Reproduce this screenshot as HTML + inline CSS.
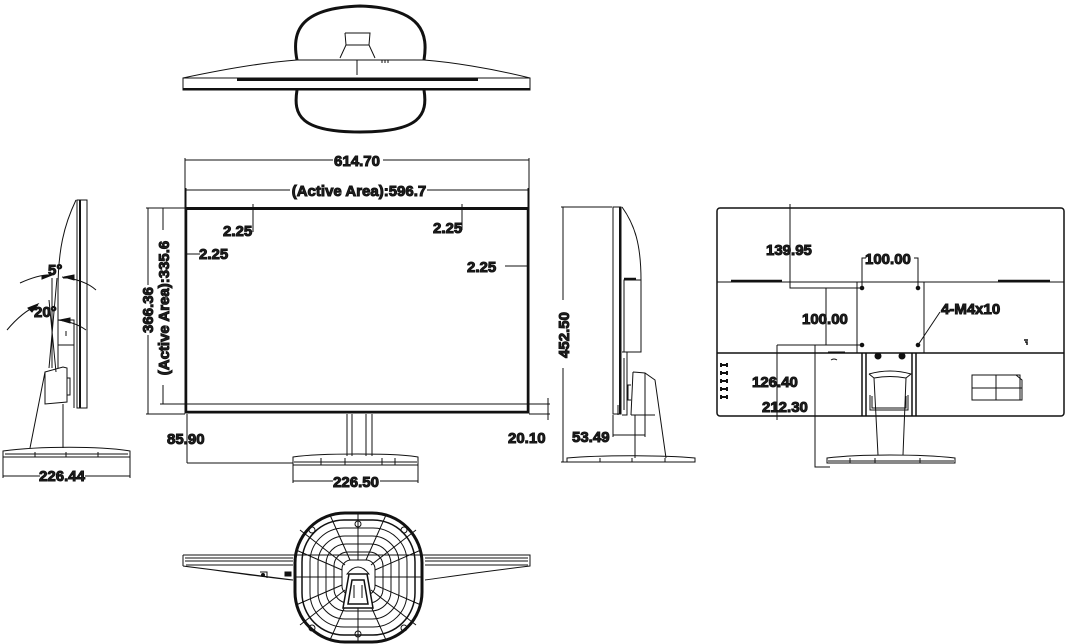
<!DOCTYPE html>
<html><head><meta charset="utf-8"><style>
html,body{margin:0;padding:0;background:#fff;}
svg{display:block;}
text{font-family:"Liberation Sans",sans-serif;font-weight:bold;font-size:15px;fill:#222;}
</style></head><body>
<svg width="1070" height="644" viewBox="0 0 1070 644" xmlns="http://www.w3.org/2000/svg" fill="none" stroke="#111" stroke-width="1">

<!-- ===== TOP VIEW ===== -->
<path d="M297,60 C292,35 296,8 360,6 C424,8 428,35 424,60" stroke-width="3"/>
<path d="M297,90 C293,115 300,132 360,132 C420,132 428,115 424,90" stroke-width="3"/>
<path d="M183,78 C230,68 270,62 297,60 L424,60 C450,62 490,68 530,78"/>
<rect x="183" y="78" width="347" height="12"/>
<line x1="237" y1="79.5" x2="478" y2="79.5" stroke-width="3"/>
<line x1="183" y1="89" x2="530" y2="89" stroke-width="2"/>
<path d="M345,33 L370,33 L369,45 L375,58 M345,33 L346,45 L340,58"/>
<path d="M346,45 L369,45"/>
<line x1="357" y1="60" x2="357" y2="75"/>
<path d="M382,60v3M385,60v3M388,60v3"/>

<!-- ===== FRONT VIEW ===== -->
<rect x="185" y="208" width="344" height="205" stroke-width="1"/>
<line x1="185" y1="208.5" x2="529" y2="208.5" stroke-width="3"/>
<line x1="186" y1="208" x2="186" y2="413" stroke-width="2.5"/>
<line x1="528" y1="208" x2="528" y2="413" stroke-width="2.5"/>
<line x1="185" y1="404" x2="529" y2="404"/>
<line x1="185" y1="412" x2="529" y2="412" stroke-width="2.5"/>
<path d="M347,414 V456 M372,414 V456 M352,414 V456 M366,414 V456"/>
<path d="M293,457 C320,453 395,453 418,457 L418,465 L293,465 Z"/>
<path d="M294,462 H417 M321,458 V465 M345,458 V465 M382,458 V465 M395,458 V465"/>
<path d="M185,158 V208 M529,158 V208 M185,160 H333 M383,160 H529"/>
<text x="357" y="166" text-anchor="middle">614.70</text>
<path d="M186,188 V208 M528,188 V208 M186,190 H290 M427,190 H528"/>
<text x="359" y="196" text-anchor="middle">(Active Area):596.7</text>
<path d="M253,204 V232 M462,204 V230 M186,254 H200 M505,266 H528"/>
<text x="223" y="236">2.25</text>
<text x="433" y="233">2.25</text>
<text x="199" y="259">2.25</text>
<text x="467" y="272">2.25</text>
<path d="M146,208 H185 M146,414 H185 M148,208 V285 M148,335 V414"/>
<path d="M160,208 H186 M160,404 H186 M163,208 V230 M163,385 V404"/>
<text transform="translate(153,310) rotate(-90)" text-anchor="middle">366.36</text>
<text transform="translate(169,308) rotate(-90)" text-anchor="middle">(Active Area):335.6</text>
<path d="M187,414 V463 M187,463 H293 M293,465 V483 M418,465 V483 M293,481 H333 M380,481 H418"/>
<text x="167" y="444">85.90</text>
<text x="356" y="487" text-anchor="middle">226.50</text>
<path d="M529,404 H550 M529,414 H550 M548,398 V420"/>
<text x="508" y="443">20.10</text>

<!-- ===== LEFT SIDE VIEW ===== -->
<rect x="77" y="200" width="10" height="208"/>
<line x1="80" y1="200" x2="80" y2="408" stroke-width="2"/>
<path d="M76,200 C64,225 58,250 58,290 L58,345 L74,345"/>
<path d="M58,345 V368 M74,345 V408"/>
<rect x="58" y="320" width="16" height="25"/>
<line x1="66" y1="331" x2="66" y2="336"/>
<path d="M45,372 L63,367 L67,368 L67,402 L45,404 Z"/>
<path d="M45,372 L30,448 M63,404 V448 M67,378 H70 V395 H67"/>
<path d="M3,451 C40,446 100,446 130,451 L130,457 L3,457 Z"/>
<path d="M5,454 H128 M35,452 V457 M66,452 V457 M98,452 V457"/>
<path d="M3,457 V478 M130,457 V478 M3,476 H40 M85,476 H130"/>
<text x="62" y="481" text-anchor="middle">226.44</text>
<path d="M52,278 L52,368 M57,278 L49,368 M49,300 L56,372 M63,278 L70,278"/>
<path d="M20,283 Q40,274 52,275" />
<path d="M62,277 Q85,280 96,290" />
<path d="M7,330 Q22,312 38,305" />
<path d="M58,320 Q75,322 86,330" />
<path d="M42,276 L52,275 L42,279 Z M64,277 L74,275 L74,280 Z M28,308 L38,304 L32,312 Z M60,320 L70,318 L70,323 Z" fill="#111"/>
<text x="48" y="275">5°</text>
<text x="34" y="317">20°</text>

<!-- ===== RIGHT SIDE VIEW ===== -->
<rect x="613" y="207" width="8" height="207"/>
<line x1="620" y1="207" x2="620" y2="414" stroke-width="2"/>
<path d="M622,207 C635,225 641,245 641,280 L641,352 L624,352 L624,280 L641,280"/>
<path d="M624,279 H636" stroke-width="2.5"/>
<path d="M622,352 H627 V415 H622 M624,358 V410 M618,405 V415"/>
<path d="M633,372 L645,373 L655,380 L666,458 M633,372 L631,415 M645,373 L645,415 L655,415 M631,415 H655 M635,415 V458 M631,385 H628 V400 H631"/>
<path d="M567,458 C600,455 660,455 695,458 L695,462 L567,462 Z"/>
<path d="M600,458 V462 M632,458 V462 M665,458 V462"/>
<path d="M561,207 H612 M561,462 H567 M563,207 V300 M563,368 V462"/>
<text transform="translate(569,335) rotate(-90)" text-anchor="middle">452.50</text>
<path d="M613,415 V437 M645,415 V437 M613,435 H645"/>
<text x="572" y="442">53.49</text>

<!-- ===== REAR VIEW ===== -->
<rect x="717" y="208" width="347" height="208" rx="3" stroke-width="1.5"/>
<line x1="717" y1="282" x2="1064" y2="282"/>
<line x1="717" y1="353" x2="1064" y2="353" stroke-width="1.5"/>
<path d="M731,281 H782 M998,281 H1050" stroke-width="2.5"/>
<rect x="857" y="282" width="67" height="71"/>
<circle cx="862" cy="288" r="1.8" fill="#111"/>
<circle cx="918" cy="288" r="1.8" fill="#111"/>
<circle cx="862" cy="345" r="1.8" fill="#111"/>
<circle cx="918" cy="345" r="1.8" fill="#111"/>
<path d="M790,204 V288 H862 M862,288 V258 H866 M914,258 H918 V288"/>
<text x="766" y="255">139.95</text>
<text x="865" y="264">100.00</text>
<path d="M826,288 V345 M777,345 H862 M777,345 V420 M815,345 V467 H830"/>
<text x="802" y="324">100.00</text>
<text x="752" y="387">126.40</text>
<text x="762" y="412">212.30</text>
<path d="M918,345 L940,312"/>
<text x="941" y="314">4-M4x10</text>
<path d="M1024,340 h4 M1025,342 h2 v3" stroke-width="1.5"/>
<path d="M828,352 H845 M831,360 q3,-2 6,0" />
<path d="M862,353 V416 M866,353 V416 M912,353 V416 M916,353 V416" stroke-width="1.5"/>
<circle cx="878" cy="356" r="3" fill="#111"/>
<circle cx="902" cy="356" r="3" fill="#111"/>
<path d="M870,395 V410 H908 V395 M872,396 V408 H906 V396"/>
<path d="M869,374 Q890,368 911,374 L906,378 L903,455 M874,378 L878,455 M869,374 L874,378 M874,378 Q890,375 906,378"/>
<path d="M827,458 C860,454 920,454 955,458 L955,463 L827,463 Z"/>
<path d="M828,461 H954 M850,458 V463 M875,458 V463 M920,458 V463"/>
<rect x="972" y="375" width="48" height="25"/>
<path d="M996,375 V400 M972,388 H1022 M1016,375 L1022,380 V400 H1020"/>
<g stroke-width="2">
<path d="M721,365 h6 M721,373 h6 M721,381 h6 M721,389 h6 M721,397 h6"/>
<path d="M721,363 v4 M727,363 v4 M721,371 v4 M727,371 v4 M721,379 v4 M727,379 v4 M721,387 v4 M727,387 v4 M721,395 v4 M727,395 v4"/>
</g>

<!-- ===== BOTTOM VIEW ===== -->
<path d="M183,555 L530,555 L530,566 C480,572 440,578 425,580 M293,580 C270,578 230,572 183,566 Z"/>
<path d="M183,555 V566 M530,555 V566"/>
<path d="M185,558 H293 M185,561 H293 M425,558 H528 M425,561 H528 M186,565 H293 M425,565 H528"/>
<path d="M260,572 h7 v6" /><circle cx="263" cy="575" r="1.5" fill="#111"/>
<rect x="285" y="572" width="6" height="4" fill="#111"/>
<rect x="295" y="513" width="127" height="129" rx="50" stroke-width="3"/>
<rect x="302" y="520" width="113" height="115" rx="42" stroke-width="1.5"/>
<rect x="310" y="528" width="97" height="99" rx="34"/>
<rect x="318" y="536" width="81" height="83" rx="27"/>
<rect x="326" y="544" width="65" height="67" rx="20"/>
<rect x="334" y="552" width="49" height="51" rx="14"/>
<rect x="342" y="560" width="33" height="35" rx="9"/>
<g>
<line x1="358" y1="513" x2="358" y2="560"/>
<line x1="358" y1="595" x2="358" y2="642"/>
<line x1="295" y1="577" x2="342" y2="577"/>
<line x1="375" y1="577" x2="422" y2="577"/>
<line x1="300" y1="530" x2="345" y2="565"/>
<line x1="416" y1="530" x2="371" y2="565"/>
<line x1="300" y1="625" x2="345" y2="590"/>
<line x1="416" y1="625" x2="371" y2="590"/>
<line x1="330" y1="515" x2="350" y2="560"/>
<line x1="386" y1="515" x2="366" y2="560"/>
<line x1="330" y1="640" x2="350" y2="595"/>
<line x1="386" y1="640" x2="366" y2="595"/>
<line x1="296" y1="550" x2="342" y2="570"/>
<line x1="421" y1="550" x2="375" y2="570"/>
<line x1="296" y1="605" x2="342" y2="585"/>
<line x1="421" y1="605" x2="375" y2="585"/>
</g>
<circle cx="358" cy="524" r="3"/><circle cx="312" cy="530" r="3"/><circle cx="404" cy="530" r="3"/>
<circle cx="358" cy="634" r="3"/><circle cx="312" cy="628" r="3"/><circle cx="404" cy="628" r="3"/>
<path d="M347,574 Q358,560 369,574 Z" fill="#fff"/>
<path d="M349,574 L343,608 H373 L367,574 Z M352,580 L348,604 H368 L364,580 Z" fill="#fff" stroke-width="1.5"/>
<path d="M354,585 V598 M362,585 V598"/>
</svg>
</body></html>
